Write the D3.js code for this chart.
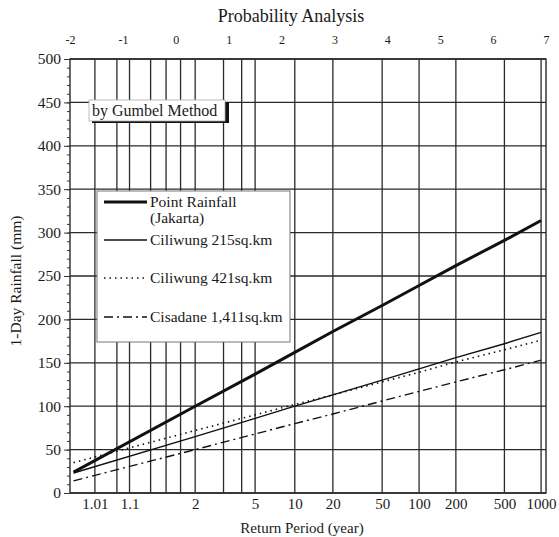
<!DOCTYPE html>
<meta charset="utf-8">
<title>Probability Analysis</title>
<style>
  body { margin: 0; background: #fff; }
  svg text { font-family: "Liberation Serif", "Times New Roman", serif; fill: #1a1a1a; }
  .axis path, .axis line { stroke: #333; }
</style>
<body>
<div id="chart"></div>
<script src="https://d3js.org/d3.v7.min.js"></script>
<script>

// values, at return periods (years)

var returnPeriods = [1.001, 2, 5, 10, 20, 50, 100, 200, 500, 1000];
var pointRainfall = [24, 100, 137, 162, 186, 216, 239, 262, 291, 314];
var ciliwung215   = [23, 65, 86, 100, 113, 130, 143, 156, 172, 185];
var ciliwung421   = [35, 72, 90, 102, 113, 128, 139, 151, 165, 176];
var cisadane      = [14, 50, 68, 80, 91, 106, 117, 128, 142, 153];

var seriesNames = ["Point Rainfall", "Ciliwung 215sq.km", "Ciliwung 421sq.km", "Cisadane 1,411sq.km"];

// axis ticks
var reducedTicks = [-2, -1, 0, 1, 2, 3, 4, 5, 6, 7];
var periodLabels = [1.01, 1.1, 2, 5, 10, 20, 50, 100, 200, 500, 1000];
var periodGrid = [1.01, 1.05, 1.1, 1.25, 1.43, 1.67, 2, 3, 4, 5, 10, 20, 50, 100, 200, 500, 1000];
var rainTicks = [0, 50, 100, 150, 200, 250, 300, 350, 400, 450, 500];

var W = 559, H = 537;
var margin = {top: 59, right: 13, bottom: 44, left: 70};
var x0 = margin.left, x1 = W - margin.right,
    y0 = H - margin.bottom, y1 = margin.top;

// Gumbel reduced variate of a return period
function gumbel(T) {
  return -Math.log(-Math.log(1 - 1 / T));
}

var x = d3.scaleLinear().domain([-2, 7]).range([x0, x1]);
var y = d3.scaleLinear().domain([0, 500]).range([y0, y1]);

var svg = d3.select("#chart").append("svg")
    .attr("width", W)
    .attr("height", H);

// grid
svg.append("g")
  .selectAll("line")
  .data(periodGrid)
  .enter().append("line")
    .attr("x1", function(d) { return x(gumbel(d)); })
    .attr("x2", function(d) { return x(gumbel(d)); })
    .attr("y1", y(0))
    .attr("y2", y(500))
    .attr("stroke", "#2a2a2a")
    .attr("stroke-width", 1.3);

svg.append("g")
  .selectAll("line")
  .data(rainTicks)
  .enter().append("line")
    .attr("x1", x(-2))
    .attr("x2", x(7))
    .attr("y1", function(d) { return y(d); })
    .attr("y2", function(d) { return y(d); })
    .attr("stroke", "#2a2a2a")
    .attr("stroke-width", 1.3);

// frame
svg.append("rect")
  .attr("x", x(-2)).attr("y", y(500))
  .attr("width", x(7) - x(-2)).attr("height", y(0) - y(500))
  .attr("fill", "none").attr("stroke", "#2a2a2a").attr("stroke-width", 1.4);

// left axis, major and minor ticks
svg.append("g")
  .attr("class", "axis")
  .attr("transform", "translate(" + x0 + ",0)")
  .call(d3.axisLeft(y).tickValues(d3.range(0, 501, 10)).tickSize(3).tickFormat(""))
  .call(function(g) { g.select(".domain").remove(); });

svg.append("g")
  .attr("class", "axis")
  .attr("transform", "translate(" + x0 + ",0)")
  .call(d3.axisLeft(y).tickValues(rainTicks).tickSize(6).tickPadding(3))
  .call(function(g) { g.select(".domain").remove(); })
  .selectAll("text")
    .style("font-size", "15.5px");

// top axis: reduced variate
svg.append("g")
  .attr("class", "axis")
  .attr("transform", "translate(0," + y1 + ")")
  .call(d3.axisTop(x).tickValues(reducedTicks).tickSize(0).tickPadding(15)
    .tickFormat(function(d) { return String(d); }))
  .call(function(g) { g.select(".domain").remove(); })
  .selectAll("text")
    .style("font-size", "12px");

// bottom axis: return period
svg.append("g")
  .attr("class", "axis")
  .attr("transform", "translate(0," + y0 + ")")
  .call(d3.axisBottom(x).tickValues(periodLabels.map(gumbel)).tickSize(0).tickPadding(5)
    .tickFormat(function(d, i) { return periodLabels[i]; }))
  .call(function(g) { g.select(".domain").remove(); })
  .selectAll("text")
    .style("font-size", "15px");

// titles
svg.append("text")
  .attr("x", 291).attr("y", 22)
  .attr("text-anchor", "middle")
  .style("font-size", "18px")
  .text("Probability Analysis");

svg.append("text")
  .attr("x", 302).attr("y", 533)
  .attr("text-anchor", "middle")
  .style("font-size", "15px")
  .text("Return Period (year)");

svg.append("text")
  .attr("transform", "translate(21,281) rotate(-90)")
  .attr("text-anchor", "middle")
  .style("font-size", "15.5px")
  .text("1-Day Rainfall (mm)");

// label boxes cover the grid
svg.append("rect")
  .attr("x", 92).attr("y", 102).attr("width", 137).attr("height", 21)
  .attr("fill", "#111");
svg.append("rect")
  .attr("x", 89).attr("y", 100).attr("width", 136).attr("height", 21)
  .attr("fill", "#fff").attr("stroke", "#aaa").attr("stroke-width", 0.8);
svg.append("text")
  .attr("x", 92).attr("y", 116)
  .style("font-size", "16px")
  .text("by Gumbel Method");

svg.append("rect")
  .attr("x", 97).attr("y", 191).attr("width", 193).attr("height", 151)
  .attr("fill", "#fff").attr("stroke", "#777").attr("stroke-width", 1);

// series
var styles = [
  {w: 3, dash: null},
  {w: 1.4, dash: null},
  {w: 1.6, dash: "1.5,4"},
  {w: 1.4, dash: "9,4,2,4"}
];
var seriesData = [pointRainfall, ciliwung215, ciliwung421, cisadane];

var line = d3.line()
  .x(function(d) { return x(gumbel(d.T)); })
  .y(function(d) { return y(d.v); });

seriesData.forEach(function(vals, i) {
  var pts = returnPeriods.map(function(T, j) { return {T: T, v: vals[j]}; });
  svg.append("path")
    .datum(pts)
    .attr("d", line)
    .attr("fill", "none")
    .attr("stroke", "#111")
    .attr("stroke-width", styles[i].w)
    .attr("stroke-dasharray", styles[i].dash);
});

// legend
var legendY = [202, 240, 278, 317];
var lg = svg.append("g");
legendY.forEach(function(ly, i) {
  lg.append("line")
    .attr("x1", 104).attr("x2", 147)
    .attr("y1", ly).attr("y2", ly)
    .attr("stroke", "#111")
    .attr("stroke-width", styles[i].w)
    .attr("stroke-dasharray", styles[i].dash);
  lg.append("text")
    .attr("x", 150).attr("y", ly + 5)
    .style("font-size", "15.5px")
    .text(seriesNames[i]);
});
lg.append("text")
  .attr("x", 150).attr("y", 223)
  .style("font-size", "15.5px")
  .text("(Jakarta)");

</script>
</body>
